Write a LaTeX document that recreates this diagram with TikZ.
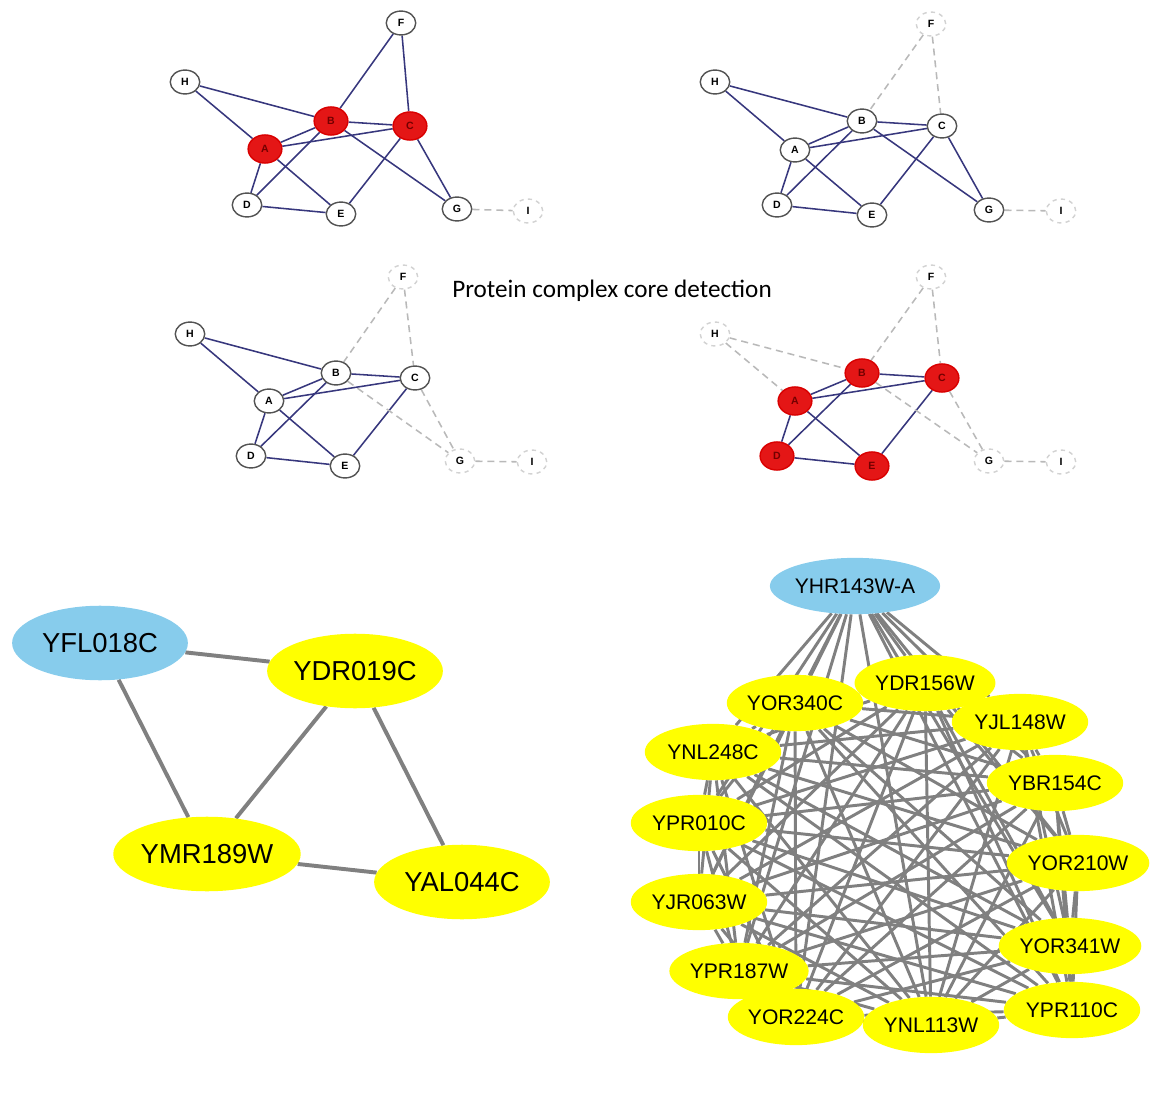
\documentclass[tikz,border=0pt]{standalone}
\usepackage{fontspec}
\setmainfont{Liberation Sans}
\newfontfamily\captionfont{Carlito}
\usetikzlibrary{shapes.geometric,backgrounds}

\definecolor{edgeblue}{RGB}{55,55,125}
\definecolor{coreRed}{RGB}{228,22,22}
\definecolor{skyBlue}{RGB}{135,204,236}
\definecolor{protYellow}{RGB}{255,255,0}
\definecolor{edgeGray}{RGB}{128,128,128}

\begin{document}
\begin{tikzpicture}[x=0.025cm,y=-0.025cm,
    vtx/.style={ellipse, draw=gray!65!black, fill=white, line width=1pt,
        minimum width=21pt, minimum height=17pt, inner sep=0pt,
        font=\fontsize{7.5}{8}\selectfont\bfseries},
    core/.style={vtx, draw=red!85!black, fill=coreRed, minimum width=24pt,
        minimum height=20pt, text=red!45!black},
    ghost/.style={vtx, draw=gray!35, dashed},
    link/.style={edgeblue, line width=1.1pt},
    weak/.style={gray!55, line width=1.1pt, dash pattern=on 5pt off 3.5pt},
    prot/.style={ellipse, fill=protYellow, inner sep=0pt, minimum width=97pt,
        minimum height=40pt, font=\fontsize{15}{16}\selectfont},
    bigprot/.style={prot, minimum width=125pt, minimum height=53pt,
        font=\fontsize{19.5}{20}\selectfont},
    bait/.style={fill=skyBlue},
    ppi/.style={edgeGray, line width=2.1pt}]

    \useasboundingbox (0,0) rectangle (1173,1097);

    % Panel 1 (top left): seed core A, B, C
    \node[vtx]   (F1) at (401,23)  {F};
    \node[vtx]   (H1) at (185,82)  {H};
    \node[core]  (B1) at (331,121) {B};
    \node[core]  (C1) at (410,126) {C};
    \node[core]  (A1) at (265,149) {A};
    \node[vtx]   (D1) at (247,205) {D};
    \node[vtx]   (E1) at (341,214) {E};
    \node[vtx]   (G1) at (457,209) {G};
    \node[ghost] (I1) at (528,211) {I};

    % Panel 2 (top right): F dropped
    \node[ghost] (F2) at (931,24)  {F};
    \node[vtx]   (H2) at (715,82)  {H};
    \node[vtx]   (B2) at (862,121) {B};
    \node[vtx]   (C2) at (942,126) {C};
    \node[vtx]   (A2) at (795,150) {A};
    \node[vtx]   (D2) at (777,205) {D};
    \node[vtx]   (E2) at (872,215) {E};
    \node[vtx]   (G2) at (989,210) {G};
    \node[ghost] (I2) at (1061,211) {I};

    % Panel 3 (middle left): G dropped
    \node[ghost] (F3) at (403,277) {F};
    \node[vtx]   (H3) at (190,334) {H};
    \node[vtx]   (B3) at (336,373) {B};
    \node[vtx]   (C3) at (415,378) {C};
    \node[vtx]   (A3) at (269,401) {A};
    \node[vtx]   (D3) at (251,456) {D};
    \node[vtx]   (E3) at (345,466) {E};
    \node[ghost] (G3) at (460,461) {G};
    \node[ghost] (I3) at (532,462) {I};

    % Panel 4 (middle right): final core
    \node[ghost] (F4) at (931,277) {F};
    \node[ghost] (H4) at (715,334) {H};
    \node[core]  (B4) at (862,373) {B};
    \node[core]  (C4) at (942,378) {C};
    \node[core]  (A4) at (795,401) {A};
    \node[core]  (D4) at (777,456) {D};
    \node[core]  (E4) at (872,466) {E};
    \node[ghost] (G4) at (989,461) {G};
    \node[ghost] (I4) at (1061,462) {I};

    \node[font=\captionfont\fontsize{17.9}{19}\selectfont] (title) at (612,291)
        {Protein complex core detection};

    % Bottom left complex
    \node[bigprot, bait] (YFL018C) at (100,643) {YFL018C};
    \node[bigprot] (YDR019C) at (355,671) {YDR019C};
    \node[bigprot] (YMR189W) at (207,854) {YMR189W};
    \node[bigprot] (YAL044C) at (462,882) {YAL044C};

    % Bottom right complex
    \node[prot, bait] (YHR143WA) at (855,586) {YHR143W-A};
    \node[prot] (YDR156W) at (925,683)  {YDR156W};
    \node[prot] (YOR340C) at (795,703)  {YOR340C};
    \node[prot] (YJL148W) at (1020,722) {YJL148W};
    \node[prot] (YNL248C) at (713,752)  {YNL248C};
    \node[prot] (YBR154C) at (1055,783) {YBR154C};
    \node[prot] (YPR010C) at (699,823)  {YPR010C};
    \node[prot] (YOR210W) at (1078,863) {YOR210W};
    \node[prot] (YJR063W) at (699,902)  {YJR063W};
    \node[prot] (YOR341W) at (1070,946) {YOR341W};
    \node[prot] (YPR187W) at (739,971)  {YPR187W};
    \node[prot] (YPR110C) at (1072,1010) {YPR110C};
    \node[prot] (YOR224C) at (796,1017) {YOR224C};
    \node[prot] (YNL113W) at (931,1025) {YNL113W};

    \begin{pgfonlayer}{background}
        % edges kept in every panel
        \foreach \p in {1,2,3,4}
            \foreach \u/\v in {A/B, A/C, B/C, A/D, A/E, B/D, C/E, D/E}
                \draw[link] (\u\p) -- (\v\p);
        \foreach \p in {1,2,3}
            \foreach \u/\v in {H/B, H/A}
                \draw[link] (\u\p) -- (\v\p);
        \foreach \p in {1,2}
            \foreach \u/\v in {B/G, C/G}
                \draw[link] (\u\p) -- (\v\p);
        \draw[link] (F1) -- (B1);
        \draw[link] (F1) -- (C1);

        % removed edges
        \foreach \p in {1,2,3,4}
            \draw[weak] (G\p) -- (I\p);
        \foreach \p in {2,3,4}
            \foreach \u/\v in {F/B, F/C}
                \draw[weak] (\u\p) -- (\v\p);
        \foreach \p in {3,4}
            \foreach \u/\v in {B/G, C/G}
                \draw[weak] (\u\p) -- (\v\p);
        \draw[weak] (H4) -- (B4);
        \draw[weak] (H4) -- (A4);

        % interactions, bottom left
        \foreach \u/\v in {YFL018C/YDR019C, YFL018C/YMR189W, YDR019C/YMR189W,
                YDR019C/YAL044C, YMR189W/YAL044C}
            \draw[ppi, line width=2.8pt] (\u) -- (\v);

        % interactions, bottom right (dense core)
        \foreach \u [count=\i] in {YDR156W,YOR340C,YJL148W,YNL248C,YBR154C,YPR010C,
                YOR210W,YJR063W,YOR341W,YPR187W,YPR110C,YOR224C,YNL113W} {
            \draw[ppi] (YHR143WA) -- (\u);
            \foreach \v [count=\j] in {YDR156W,YOR340C,YJL148W,YNL248C,YBR154C,YPR010C,
                    YOR210W,YJR063W,YOR341W,YPR187W,YPR110C,YOR224C,YNL113W} {
                \ifnum\j>\i \draw[ppi] (\u) -- (\v); \fi
            }
        }
    \end{pgfonlayer}

\end{tikzpicture}
\end{document}
